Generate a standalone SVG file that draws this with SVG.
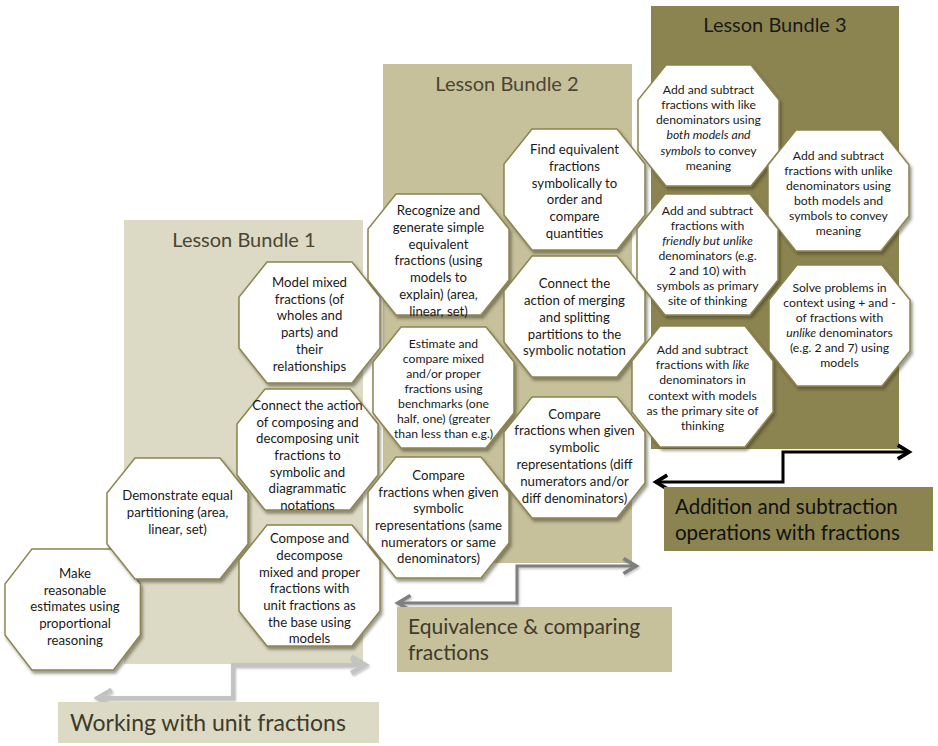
<svg xmlns="http://www.w3.org/2000/svg" width="938" height="746" viewBox="0 0 938 746">
<style>
.bg{fill:#ffffff}
.p1{fill:#dcd9c4}
.p2{fill:#c6c09b}
.p3{fill:#8c8450}
.oct{fill:#ffffff;stroke:#8c8450;stroke-width:1.5}
.t{font-family:Lato,"Open Sans",sans-serif;font-size:13.2px;fill:#1a1a1a;text-anchor:middle}
.s{font-family:Lato,"Open Sans",sans-serif;font-size:12.2px;fill:#1a1a1a;text-anchor:middle}
.title{font-family:Lato,"Open Sans",sans-serif;font-size:20px;text-anchor:middle}
.lab{font-family:Lato,"Open Sans",sans-serif}
.i{font-style:italic}
.c{fill:none;stroke-linejoin:miter}
</style>
<defs>
<filter id="sh" x="-10%" y="-10%" width="130%" height="130%">
<feDropShadow dx="2" dy="3" stdDeviation="1.6" flood-color="#3a3620" flood-opacity="0.5"/>
</filter>
<filter id="csh" x="-5%" y="-30%" width="110%" height="160%">
<feDropShadow dx="1" dy="1.5" stdDeviation="1" flood-color="#000" flood-opacity="0.25"/>
</filter>
<polygon id="oct" points="28,0 113,0 141,35 141,86 113,121 28,121 0,86 0,35"/>
<marker id="ahL" markerUnits="userSpaceOnUse" markerWidth="20" markerHeight="20" refX="0" refY="0" viewBox="-12 -8 14 16" orient="auto-start-reverse">
<path d="M-11,-6.5 L0,0 L-11,6.5" fill="none" stroke="#c3c3c3" stroke-width="4"/>
</marker>
<marker id="ahG" markerUnits="userSpaceOnUse" markerWidth="20" markerHeight="20" refX="0" refY="0" viewBox="-12 -8 14 16" orient="auto-start-reverse">
<path d="M-10,-6 L0,0 L-10,6" fill="none" stroke="#7f7f7f" stroke-width="3"/>
</marker>
<marker id="ahB" markerUnits="userSpaceOnUse" markerWidth="20" markerHeight="20" refX="0" refY="0" viewBox="-12 -8 14 16" orient="auto-start-reverse">
<path d="M-9,-5.5 L0,0 L-9,5.5" fill="none" stroke="#000" stroke-width="3"/>
</marker>
</defs>
<rect class="bg" x="0" y="0" width="938" height="746"/>

<g id="panels">
<g id="bundle1"><rect class="p1" x="124" y="220" width="239" height="444"/><text class="title" x="244" y="247" fill="#4a4632">Lesson Bundle 1</text></g>
<g id="bundle2"><rect class="p2" x="383" y="64" width="249" height="499"/><text class="title" x="507" y="91" fill="#4a4632">Lesson Bundle 2</text></g>
<g id="bundle3"><rect class="p3" x="651" y="6" width="248" height="443"/><text class="title" x="775" y="32" fill="#1a1a1a">Lesson Bundle 3</text></g>
</g>

<g id="connectors">
<path class="c" d="M98,698 H233 V665 H365" stroke="#c3c3c3" stroke-width="4" marker-start="url(#ahL)" marker-end="url(#ahL)" filter="url(#csh)"/>
<path class="c" d="M398,603 H517 V566 H636" stroke="#7f7f7f" stroke-width="3" marker-start="url(#ahG)" marker-end="url(#ahG)" filter="url(#csh)"/>
<path class="c" d="M656,482 H783 V452 H909" stroke="#000000" stroke-width="3" marker-start="url(#ahB)" marker-end="url(#ahB)"/>
</g>

<g id="label1"><rect class="p1" x="58" y="702" width="321" height="41"/><text class="lab" x="70" y="731" font-size="23" fill="#3e3b2a">Working with unit fractions</text></g>
<g id="label2"><rect class="p2" x="397" y="607" width="275" height="65"/><text class="lab" x="408" y="634" font-size="21" fill="#3e3b2a">Equivalence &amp; comparing</text><text class="lab" x="408" y="660" font-size="21" fill="#3e3b2a">fractions</text></g>
<g id="label3"><rect class="p3" x="664" y="487" width="269" height="64"/><text class="lab" x="675" y="514" font-size="20.5" fill="#111">Addition and subtraction</text><text class="lab" x="675" y="540" font-size="20.5" fill="#111">operations with fractions</text></g>

<g id="n1"><use href="#oct" class="oct" transform="translate(5,549) scale(0.96,1)" filter="url(#sh)"/><text class="t"><tspan x="75" y="578">Make</tspan><tspan x="75" y="595">reasonable</tspan><tspan x="75" y="611">estimates using</tspan><tspan x="75" y="628">proportional</tspan><tspan x="75" y="645">reasoning</tspan></text></g>

<g id="n2"><use href="#oct" class="oct" x="107" y="458" filter="url(#sh)"/><text class="t"><tspan x="177.5" y="500">Demonstrate equal</tspan><tspan x="177.5" y="517">partitioning (area,</tspan><tspan x="177.5" y="534">linear, set)</tspan></text></g>

<g id="n3"><use href="#oct" class="oct" x="239" y="262" filter="url(#sh)"/><text class="t"><tspan x="309.5" y="287">Model mixed</tspan><tspan x="309.5" y="304">fractions (of</tspan><tspan x="309.5" y="320">wholes and</tspan><tspan x="309.5" y="337">parts) and</tspan><tspan x="309.5" y="354">their</tspan><tspan x="309.5" y="371">relationships</tspan></text></g>

<g id="n4"><use href="#oct" class="oct" x="237" y="389" filter="url(#sh)"/><text class="t"><tspan x="307.5" y="410">Connect the action</tspan><tspan x="307.5" y="427">of composing and</tspan><tspan x="307.5" y="443">decomposing unit</tspan><tspan x="307.5" y="460">fractions to</tspan><tspan x="307.5" y="477">symbolic and</tspan><tspan x="307.5" y="493">diagrammatic</tspan><tspan x="307.5" y="510">notations</tspan></text></g>

<g id="n5"><use href="#oct" class="oct" x="239" y="525" filter="url(#sh)"/><text class="t"><tspan x="309.5" y="543">Compose and</tspan><tspan x="309.5" y="560">decompose</tspan><tspan x="309.5" y="577">mixed and proper</tspan><tspan x="309.5" y="593">fractions with</tspan><tspan x="309.5" y="610">unit fractions as</tspan><tspan x="309.5" y="627">the base using</tspan><tspan x="309.5" y="643">models</tspan></text></g>

<g id="n6"><use href="#oct" class="oct" x="368" y="194" filter="url(#sh)"/><text class="t"><tspan x="438.5" y="215">Recognize and</tspan><tspan x="438.5" y="232">generate simple</tspan><tspan x="438.5" y="249">equivalent</tspan><tspan x="438.5" y="265">fractions (using</tspan><tspan x="438.5" y="282">models to</tspan><tspan x="438.5" y="299">explain) (area,</tspan><tspan x="438.5" y="316">linear, set)</tspan></text></g>

<g id="n7"><use href="#oct" class="oct" x="504" y="129" filter="url(#sh)"/><text class="t"><tspan x="574.5" y="154">Find equivalent</tspan><tspan x="574.5" y="171">fractions</tspan><tspan x="574.5" y="188">symbolically to</tspan><tspan x="574.5" y="204">order and</tspan><tspan x="574.5" y="221">compare</tspan><tspan x="574.5" y="238">quantities</tspan></text></g>

<g id="n8"><use href="#oct" class="oct" x="504" y="256" filter="url(#sh)"/><text class="t"><tspan x="574.5" y="288">Connect the</tspan><tspan x="574.5" y="305">action of merging</tspan><tspan x="574.5" y="322">and splitting</tspan><tspan x="574.5" y="339">partitions to the</tspan><tspan x="574.5" y="355">symbolic notation</tspan></text></g>

<g id="n9"><use href="#oct" class="oct" x="373" y="327" filter="url(#sh)"/><text class="s"><tspan x="443.5" y="348">Estimate and</tspan><tspan x="443.5" y="363">compare mixed</tspan><tspan x="443.5" y="378">and/or proper</tspan><tspan x="443.5" y="393">fractions using</tspan><tspan x="443.5" y="408">benchmarks (one</tspan><tspan x="443.5" y="423">half, one) (greater</tspan><tspan x="443.5" y="438">than less than e.g.)</tspan></text></g>

<g id="n10"><use href="#oct" class="oct" x="368" y="457" filter="url(#sh)"/><text class="t"><tspan x="438.5" y="480">Compare</tspan><tspan x="438.5" y="497">fractions when given</tspan><tspan x="438.5" y="513">symbolic</tspan><tspan x="438.5" y="530">representations (same</tspan><tspan x="438.5" y="547">numerators or same</tspan><tspan x="438.5" y="563">denominators)</tspan></text></g>

<g id="n11"><use href="#oct" class="oct" x="504" y="397" filter="url(#sh)"/><text class="t"><tspan x="574.5" y="419">Compare</tspan><tspan x="574.5" y="435">fractions when given</tspan><tspan x="574.5" y="452">symbolic</tspan><tspan x="574.5" y="469">representations (diff</tspan><tspan x="574.5" y="486">numerators and/or</tspan><tspan x="574.5" y="503">diff denominators)</tspan></text></g>

<g id="n12"><use href="#oct" class="oct" x="638" y="65" filter="url(#sh)"/><text class="s"><tspan x="708.5" y="94">Add and subtract</tspan><tspan x="708.5" y="109">fractions with like</tspan><tspan x="708.5" y="124">denominators using</tspan><tspan x="708.5" y="139" class="i">both models and</tspan><tspan x="708.5" y="155"><tspan class="i">symbols</tspan> to convey</tspan><tspan x="708.5" y="170">meaning</tspan></text></g>

<g id="n13"><use href="#oct" class="oct" x="768" y="130" filter="url(#sh)"/><text class="s"><tspan x="838.5" y="160">Add and subtract</tspan><tspan x="838.5" y="175">fractions with unlike</tspan><tspan x="838.5" y="190">denominators using</tspan><tspan x="838.5" y="205">both models and</tspan><tspan x="838.5" y="220">symbols to convey</tspan><tspan x="838.5" y="235">meaning</tspan></text></g>

<g id="n14"><use href="#oct" class="oct" x="637" y="194" filter="url(#sh)"/><text class="s"><tspan x="707.5" y="215">Add and subtract</tspan><tspan x="707.5" y="230">fractions with</tspan><tspan x="707.5" y="245" class="i">friendly but unlike</tspan><tspan x="707.5" y="260">denominators (e.g.</tspan><tspan x="707.5" y="275">2 and 10) with</tspan><tspan x="707.5" y="290">symbols as primary</tspan><tspan x="707.5" y="305">site of thinking</tspan></text></g>

<g id="n15"><use href="#oct" class="oct" x="769" y="265" filter="url(#sh)"/><text class="s"><tspan x="839.5" y="292">Solve problems in</tspan><tspan x="839.5" y="307">context using + and -</tspan><tspan x="839.5" y="322">of fractions with</tspan><tspan x="839.5" y="337"><tspan class="i">unlike</tspan> denominators</tspan><tspan x="839.5" y="352">(e.g. 2 and 7) using</tspan><tspan x="839.5" y="367">models</tspan></text></g>

<g id="n16"><use href="#oct" class="oct" x="632" y="326" filter="url(#sh)"/><text class="s"><tspan x="702.5" y="354">Add and subtract</tspan><tspan x="702.5" y="369">fractions with <tspan class="i">like</tspan></tspan><tspan x="702.5" y="384">denominators in</tspan><tspan x="702.5" y="400">context with models</tspan><tspan x="702.5" y="415">as the primary site of</tspan><tspan x="702.5" y="430">thinking</tspan></text></g>
</svg>
